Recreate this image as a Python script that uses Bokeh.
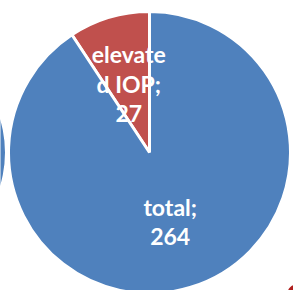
import numpy as np
from bokeh.plotting import figure
from bokeh.models import ColumnDataSource
from bokeh.core.properties import value
from bokeh.embed import file_html
from bokeh.resources import INLINE

# data
categories = ["elevated IOP", "total"]
values = [27, 264]
label_lines = ["elevate\nd IOP;\n27", "total;\n264"]
colors = ["#C0504D", "#4F81BD"]

W, H = 293, 290
cx, cy, R = 149, H - 152, 141
label_r = 72

vals = np.array(values, dtype=float)
frac = vals / vals.sum()
ends = np.pi / 2 + 2 * np.pi * np.cumsum(frac)
starts = ends - 2 * np.pi * frac
mids = (starts + ends) / 2

src = ColumnDataSource(dict(
    cat=categories, start=starts, end=ends, color=colors,
    lx=cx + label_r * np.cos(mids), ly=cy + label_r * np.sin(mids),
    text=label_lines,
))

p = figure(width=W, height=H, x_range=(0, W), y_range=(0, H),
           output_backend="svg", toolbar_location=None, min_border=0)
p.axis.visible = False
p.xgrid.visible = False
p.ygrid.visible = False
p.outline_line_color = None
p.background_fill_color = "white"
p.border_fill_color = "white"

# fragments of neighbouring shapes at the edges
p.circle(x=[-110.5], y=[H - 152], radius=115, fill_color="#4F81BD", line_color=None)
p.circle(x=[296], y=[H - 293], radius=9, fill_color="#B0201E", line_color=None)

p.wedge(x=cx, y=cy, radius=R, start_angle="start", end_angle="end",
        direction="anticlock", fill_color="color", line_color="white",
        line_width=3, source=src)

p.text(x="lx", y="ly", text="text", source=src, text_color="white",
       text_font=value("Lato"), text_font_style="bold",
       text_font_size="23px", text_align="center", text_baseline="middle",
       text_line_height=1.05)

open("out.html", "w").write(file_html(p, INLINE))
